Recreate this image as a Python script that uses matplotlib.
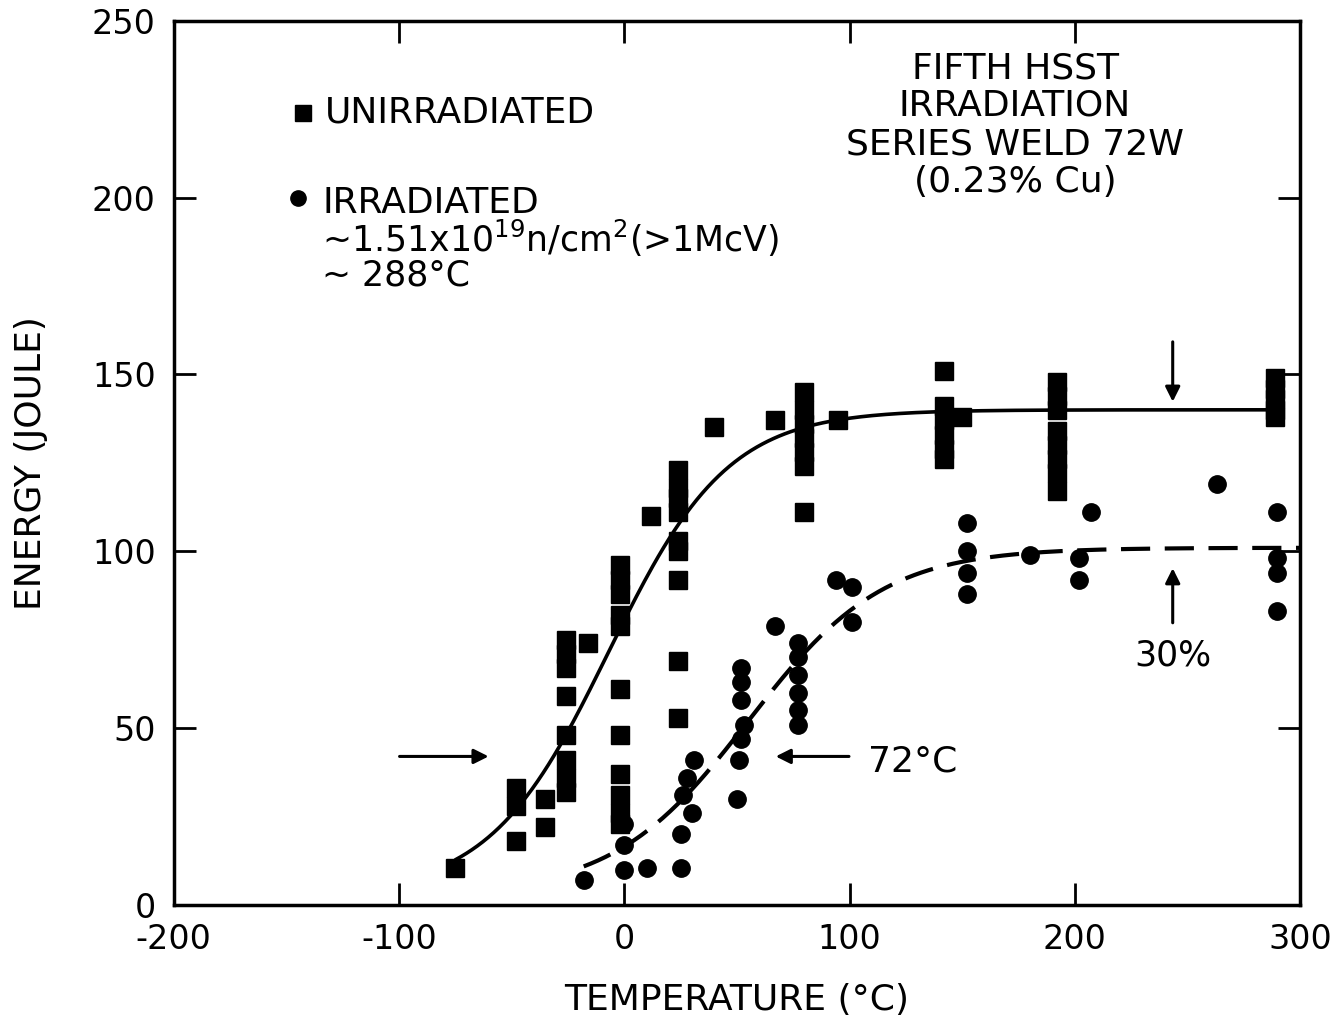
import numpy as np
import matplotlib
matplotlib.use("Agg")
import matplotlib.pyplot as plt

plt.rcParams['font.family'] = ['DejaVu Sans']
plt.rcParams['axes.unicode_minus'] = False
plt.rcParams['mathtext.fontset'] = 'dejavusans'

# Charpy impact energy, unirradiated weld (temperature °C, energy J)
unirr_T = [-75,
           -48, -48, -48,
           -35, -35,
           -26, -26, -26, -26, -26, -26, -26, -26,
           -16,
           -2, -2, -2, -2, -2, -2, -2, -2, -2, -2, -2,
           12,
           24, 24, 24, 24, 24, 24, 24, 24, 24,
           40,
           67,
           80, 80, 80, 80, 80, 80, 80,
           95,
           142, 142, 142, 142, 142, 142,
           150,
           192, 192, 192, 192, 192, 192, 192, 192,
           289, 289, 289, 289, 289]
unirr_E = [10.5,
           33, 28, 18,
           30, 22,
           75, 71, 67, 59, 48, 41, 36, 32,
           74,
           96, 92, 88, 82, 79, 61, 48, 37, 31, 26, 23,
           110,
           123, 118, 115, 111, 103, 100, 92, 69, 53,
           135,
           137,
           145, 140, 136, 132, 128, 124, 111,
           137,
           151, 141, 137, 133, 129, 126,
           138,
           148, 144, 140, 134, 130, 126, 122, 117,
           149, 146, 143, 140, 138]

# Charpy impact energy, irradiated weld
irr_T = [-18,
         0, 0, 0,
         10, 25,
         25, 30, 26, 28, 31,
         50, 51, 52, 53, 52, 52, 52,
         67,
         77, 77, 77, 77, 77, 77,
         94, 101, 101,
         152, 152, 152, 152,
         180,
         207, 202, 202,
         263,
         290, 290, 290, 290]
irr_E = [7,
         23, 17, 10,
         10.5, 10.5,
         20, 26, 31, 36, 41,
         30, 41, 47, 51, 58, 63, 67,
         79,
         74, 70, 65, 60, 55, 51,
         92, 90, 80,
         108, 100, 94, 88,
         99,
         111, 98, 92,
         119,
         111, 98, 94, 83]

# Hyperbolic-tangent fit parameters: lower shelf, upper shelf, midpoint, half-width
unirr_fit = dict(lower=3.0, upper=140.0, t0=-7.0, c=53.0, t_start=-75, t_end=289)
irr_fit = dict(lower=3.0, upper=101.0, t0=55.0, c=60.0, t_start=-18, t_end=300)

x_ticks = [-200, -100, 0, 100, 200, 300]
y_ticks = [0, 50, 100, 150, 200, 250]


def tanh_curve(p, n=300):
    t = np.linspace(p['t_start'], p['t_end'], n)
    e = p['lower'] + 0.5 * (p['upper'] - p['lower']) * (1 + np.tanh((t - p['t0']) / p['c']))
    return t, e


fig = plt.figure(figsize=(13.37, 10.22), dpi=100)
ax = fig.add_axes([0.130, 0.1145, 0.8423, 0.8652])

ax.set_xlim(-200, 300)
ax.set_ylim(0, 250)
ax.set_xticks(x_ticks)
ax.set_yticks(y_ticks)
ax.tick_params(direction='in', length=16, width=2, labelsize=24, pad=13,
               top=True, right=True, colors='black')
for s in ax.spines.values():
    s.set_linewidth(2.5)

# fitted transition curves
t, e = tanh_curve(unirr_fit)
ax.plot(t, e, color='black', lw=2.6, solid_capstyle='round', zorder=2)
t, e = tanh_curve(irr_fit)
ax.plot(t, e, color='black', lw=3.0, dashes=(7, 3.5), zorder=2)

# data points
ax.plot(unirr_T, unirr_E, linestyle='none', marker='s', markersize=13,
        color='black', zorder=3, clip_on=False)
ax.plot(irr_T, irr_E, linestyle='none', marker='o', markersize=12.5,
        color='black', zorder=3, clip_on=False)

# key
ax.plot([-142.5], [224], marker='s', markersize=11, color='black', linestyle='none')
ax.text(-133, 224, 'UNIRRADIATED', fontsize=26, va='center', ha='left')
ax.plot([-144.8], [200], marker='o', markersize=11, color='black', linestyle='none')
ax.text(-134, 198.5, 'IRRADIATED', fontsize=26, va='center', ha='left')
ax.text(-134, 188.5, r'~1.51x10$^{19}$n/cm$^{2}$(>1McV)', fontsize=25, va='center', ha='left')
ax.text(-134, 178.0, '~ 288°C', fontsize=25, va='center', ha='left')

# title block
for yy, line in zip([236.5, 226, 215, 204.5],
                    ['FIFTH HSST', 'IRRADIATION', 'SERIES WELD 72W', '(0.23% Cu)']):
    ax.text(173.5, yy, line, fontsize=26, va='center', ha='center')

# arrows and labels
arrow = dict(arrowstyle='-|>', color='black', lw=2.2, mutation_scale=22)
ax.annotate('', xy=(-59, 42), xytext=(-101, 42), arrowprops=arrow)
ax.annotate('', xy=(66, 42), xytext=(101, 42), arrowprops=arrow)
ax.text(108, 40.5, '72°C', fontsize=26, va='center', ha='left')
ax.annotate('', xy=(243.5, 141.5), xytext=(243.5, 160), arrowprops=arrow)
ax.annotate('', xy=(243.5, 96), xytext=(243.5, 79), arrowprops=arrow)
ax.text(243.5, 70.5, '30%', fontsize=25, va='center', ha='center')

fig.text(0.551, 0.022, 'TEMPERATURE (°C)', fontsize=26, ha='center', va='center')
fig.text(0.023, 0.547, 'ENERGY (JOULE)', fontsize=26, ha='center', va='center', rotation=90)

fig.savefig('out.png', dpi=100)
